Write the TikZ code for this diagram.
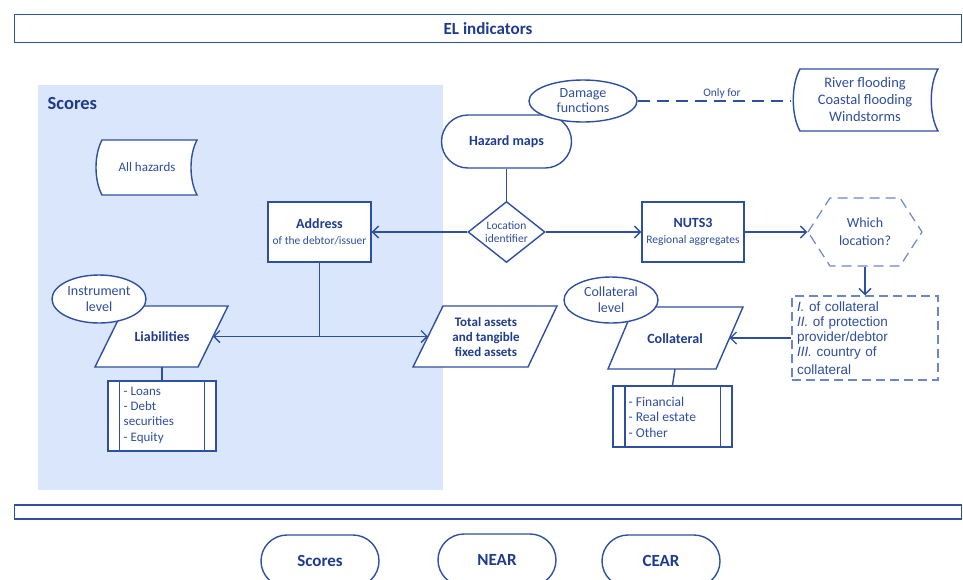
\documentclass[tikz,border=0pt]{standalone}
\usepackage{fontspec}
\setmainfont{Carlito}
\newfontfamily\arialfam{Liberation Sans}
\usetikzlibrary{arrows.meta,shapes.misc,shapes.geometric}
\definecolor{lc}{HTML}{2F4F9F}
\definecolor{tcol}{HTML}{2E4E9E}
\definecolor{bcol}{HTML}{1F3C8C}
\definecolor{pfill}{HTML}{DAE6FB}
\definecolor{dcol}{HTML}{6C87C9}
\newcommand\myfs[2]{\fontsize{#1}{#2}\selectfont}
\begin{document}
\begin{tikzpicture}[x=1pt,y=-1pt,line width=1.4pt,
  every node/.style={text=tcol, inner sep=0pt, align=center},
  ln/.style={draw=lc, line width=1.4pt},
  arr/.style={ln, -{Straight Barb[length=6pt,width=12pt]}},
  bt/.style={font=\bfseries\myfs{14}{16}, text=bcol},
  dbar/.style={draw=lc, line width=1.8pt},
  stad/.style={ln, rounded rectangle, minimum width=118, minimum height=52, font=\bfseries\myfs{17}{19}, text=bcol},
  plist/.style={ln, fill=white},
]
\useasboundingbox (0,0) rectangle (963,579);
\clip (0,0) rectangle (963,579);
\fill[white] (0,0) rectangle (963,579);

% title bar
\node[dbar, minimum width=947, minimum height=28, font=\bfseries\myfs{17}{19}, text=bcol] (title) at (488,28.5) {EL indicators};

% scores panel
\fill[pfill] (38,85) rectangle (443,490);
\node[anchor=west, font=\bfseries\myfs{18.5}{20}, text=bcol] (scoreslbl) at (47,103) {Scores};

% All hazards (stored data)
\draw[ln, fill=white] (102,140) -- (197,140) .. controls (189,155) and (189,180) .. (197,195) -- (102,195) .. controls (94,180) and (94,155) .. (102,140) -- cycle;
\node[minimum width=102, minimum height=55, font=\myfs{13}{15}] (allhaz) at (147,167) {All hazards};

% Hazard maps and damage functions
\node[ln, rounded rectangle, fill=white, minimum width=130, minimum height=53, bt] (haz) at (506.5,141.5) {Hazard maps};
\node[ln, ellipse, fill=white, minimum width=108, minimum height=42, font=\myfs{14}{15}] (dmg) at (583,101) {Damage\\functions};

% River flooding box
\draw[ln, fill=white] (800,69) -- (938,69) .. controls (929,85) and (929,115) .. (938,131) -- (800,131) .. controls (791,115) and (791,85) .. (800,69) -- cycle;
\node[minimum width=146, minimum height=62, font=\myfs{14.5}{17}] (river) at (865,100) {River flooding\\Coastal flooding\\Windstorms};
\draw[ln, dash pattern=on 12pt off 7pt] (dmg.east) -- (river.west |- dmg.east);
\node[font=\myfs{11.5}{13}] (onlyfor) at (722,93) {Only for};

% Location identifier
\node[ln, diamond, fill=white, aspect=1.25, minimum width=77, minimum height=61, font=\myfs{11.5}{13.5}] (loc) at (506.5,232) {Location\\identifier};
\draw[ln] (haz.south) -- (loc.north);

% Address and NUTS3
\node[ln, fill=white, minimum width=103, minimum height=60, font=\myfs{11.5}{16}] (addr) at (319.5,232) {{\bfseries\color{bcol}\myfs{14}{16}Address}\\of the debtor/issuer};
\node[ln, fill=white, minimum width=102, minimum height=60, font=\myfs{11.5}{16}] (nuts) at (693,232) {{\bfseries\color{bcol}\myfs{14}{16}NUTS3}\\Regional aggregates};
\draw[arr] (loc.west) -- (addr.east);
\draw[arr] (loc.east) -- (nuts.west);

% Which location hexagon
\draw[draw=dcol, line width=1.2pt, dash pattern=on 10pt off 6pt] (808,232) -- (830,198) -- (900,198) -- (922,232) -- (900,266) -- (830,266) -- cycle;
\node[minimum width=114, minimum height=68, font=\myfs{14}{18}] (which) at (865,232) {Which\\location?};
\draw[arr] (nuts.east) -- (which.west);

% dashed location box
\node[draw=dcol, line width=1.2pt, dash pattern=on 9pt off 5pt, minimum width=146, minimum height=84, text width=136, inner xsep=5pt, align=left, font=\arialfam\myfs{13.5}{15}] (locbox) at (865,338) {\textit{I.} of collateral\\\textit{II.} of protection\\provider/debtor\\\textit{III.} country of\\[3pt]collateral};
\draw[arr] (which.south) -- (locbox.north);

% Collateral
\draw[ln, fill=white] (608,369) -- (634,307) -- (743,307) -- (716,369) -- cycle;
\node[bt] (coll) at (675,339) {Collateral};
\coordinate (collR) at (729.5,338);
\coordinate (collB) at (675,369);
\draw[arr] (locbox.west) -- (collR);
\node[ln, ellipse, fill=white, minimum width=94, minimum height=46, font=\myfs{14}{16}] (colllvl) at (611,300) {Collateral\\level};
\node[plist, minimum width=119, minimum height=61] (colllist) at (672.5,416.5) {};
\draw[ln] ([xshift=12.5pt]colllist.north west) -- ([xshift=12.5pt]colllist.south west)
          ([xshift=-12.5pt]colllist.north east) -- ([xshift=-12.5pt]colllist.south east);
\node[anchor=west, align=left, font=\myfs{13.5}{15.5}] (colltxt) at (628,417) {- Financial\\- Real estate\\- Other};
\draw[ln] (collB) -- (colllist.north);

% Liabilities
\draw[ln, fill=white] (95,367) -- (125,306) -- (228,306) -- (198,367) -- cycle;
\node[bt] (liab) at (162,337) {Liabilities};
\coordinate (liabR) at (213,336.5);
\coordinate (liabB) at (162,367);
\node[ln, ellipse, fill=white, minimum width=94, minimum height=48, font=\myfs{14}{16}] (instr) at (99,299) {Instrument\\level};
\node[plist, minimum width=108, minimum height=70] (liablist) at (162,416) {};
\draw[ln] ([xshift=12pt]liablist.north west) -- ([xshift=12pt]liablist.south west)
          ([xshift=-12pt]liablist.north east) -- ([xshift=-12pt]liablist.south east);
\node[anchor=west, align=left, font=\myfs{13}{15.3}] (liabtxt) at (123,415) {- Loans\\- Debt\\securities\\- Equity};
\draw[ln] (liabB) -- (liablist.north);

% Total assets
\draw[ln, fill=white] (413,367) -- (443,306) -- (557,306) -- (528,367) -- cycle;
\node[bt, font=\bfseries\myfs{13}{15}] (tot) at (486,337) {Total assets\\and tangible\\fixed assets};
\coordinate (totL) at (428,336.5);

% address fork
\coordinate (fork) at (319.5,336.5);
\draw[ln] (addr.south) -- (fork);
\draw[arr] (fork) -- (liabR);
\draw[arr] (fork) -- (totL);

% bottom bar
\node[dbar, minimum width=947, minimum height=14] (bar) at (488,512) {};

% bottom stadiums
\node[stad] (bscores) at (320,561) {Scores};
\node[stad] (bnear) at (497,560) {NEAR};
\node[stad] (bcear) at (661,561) {CEAR};
\end{tikzpicture}
\end{document}
